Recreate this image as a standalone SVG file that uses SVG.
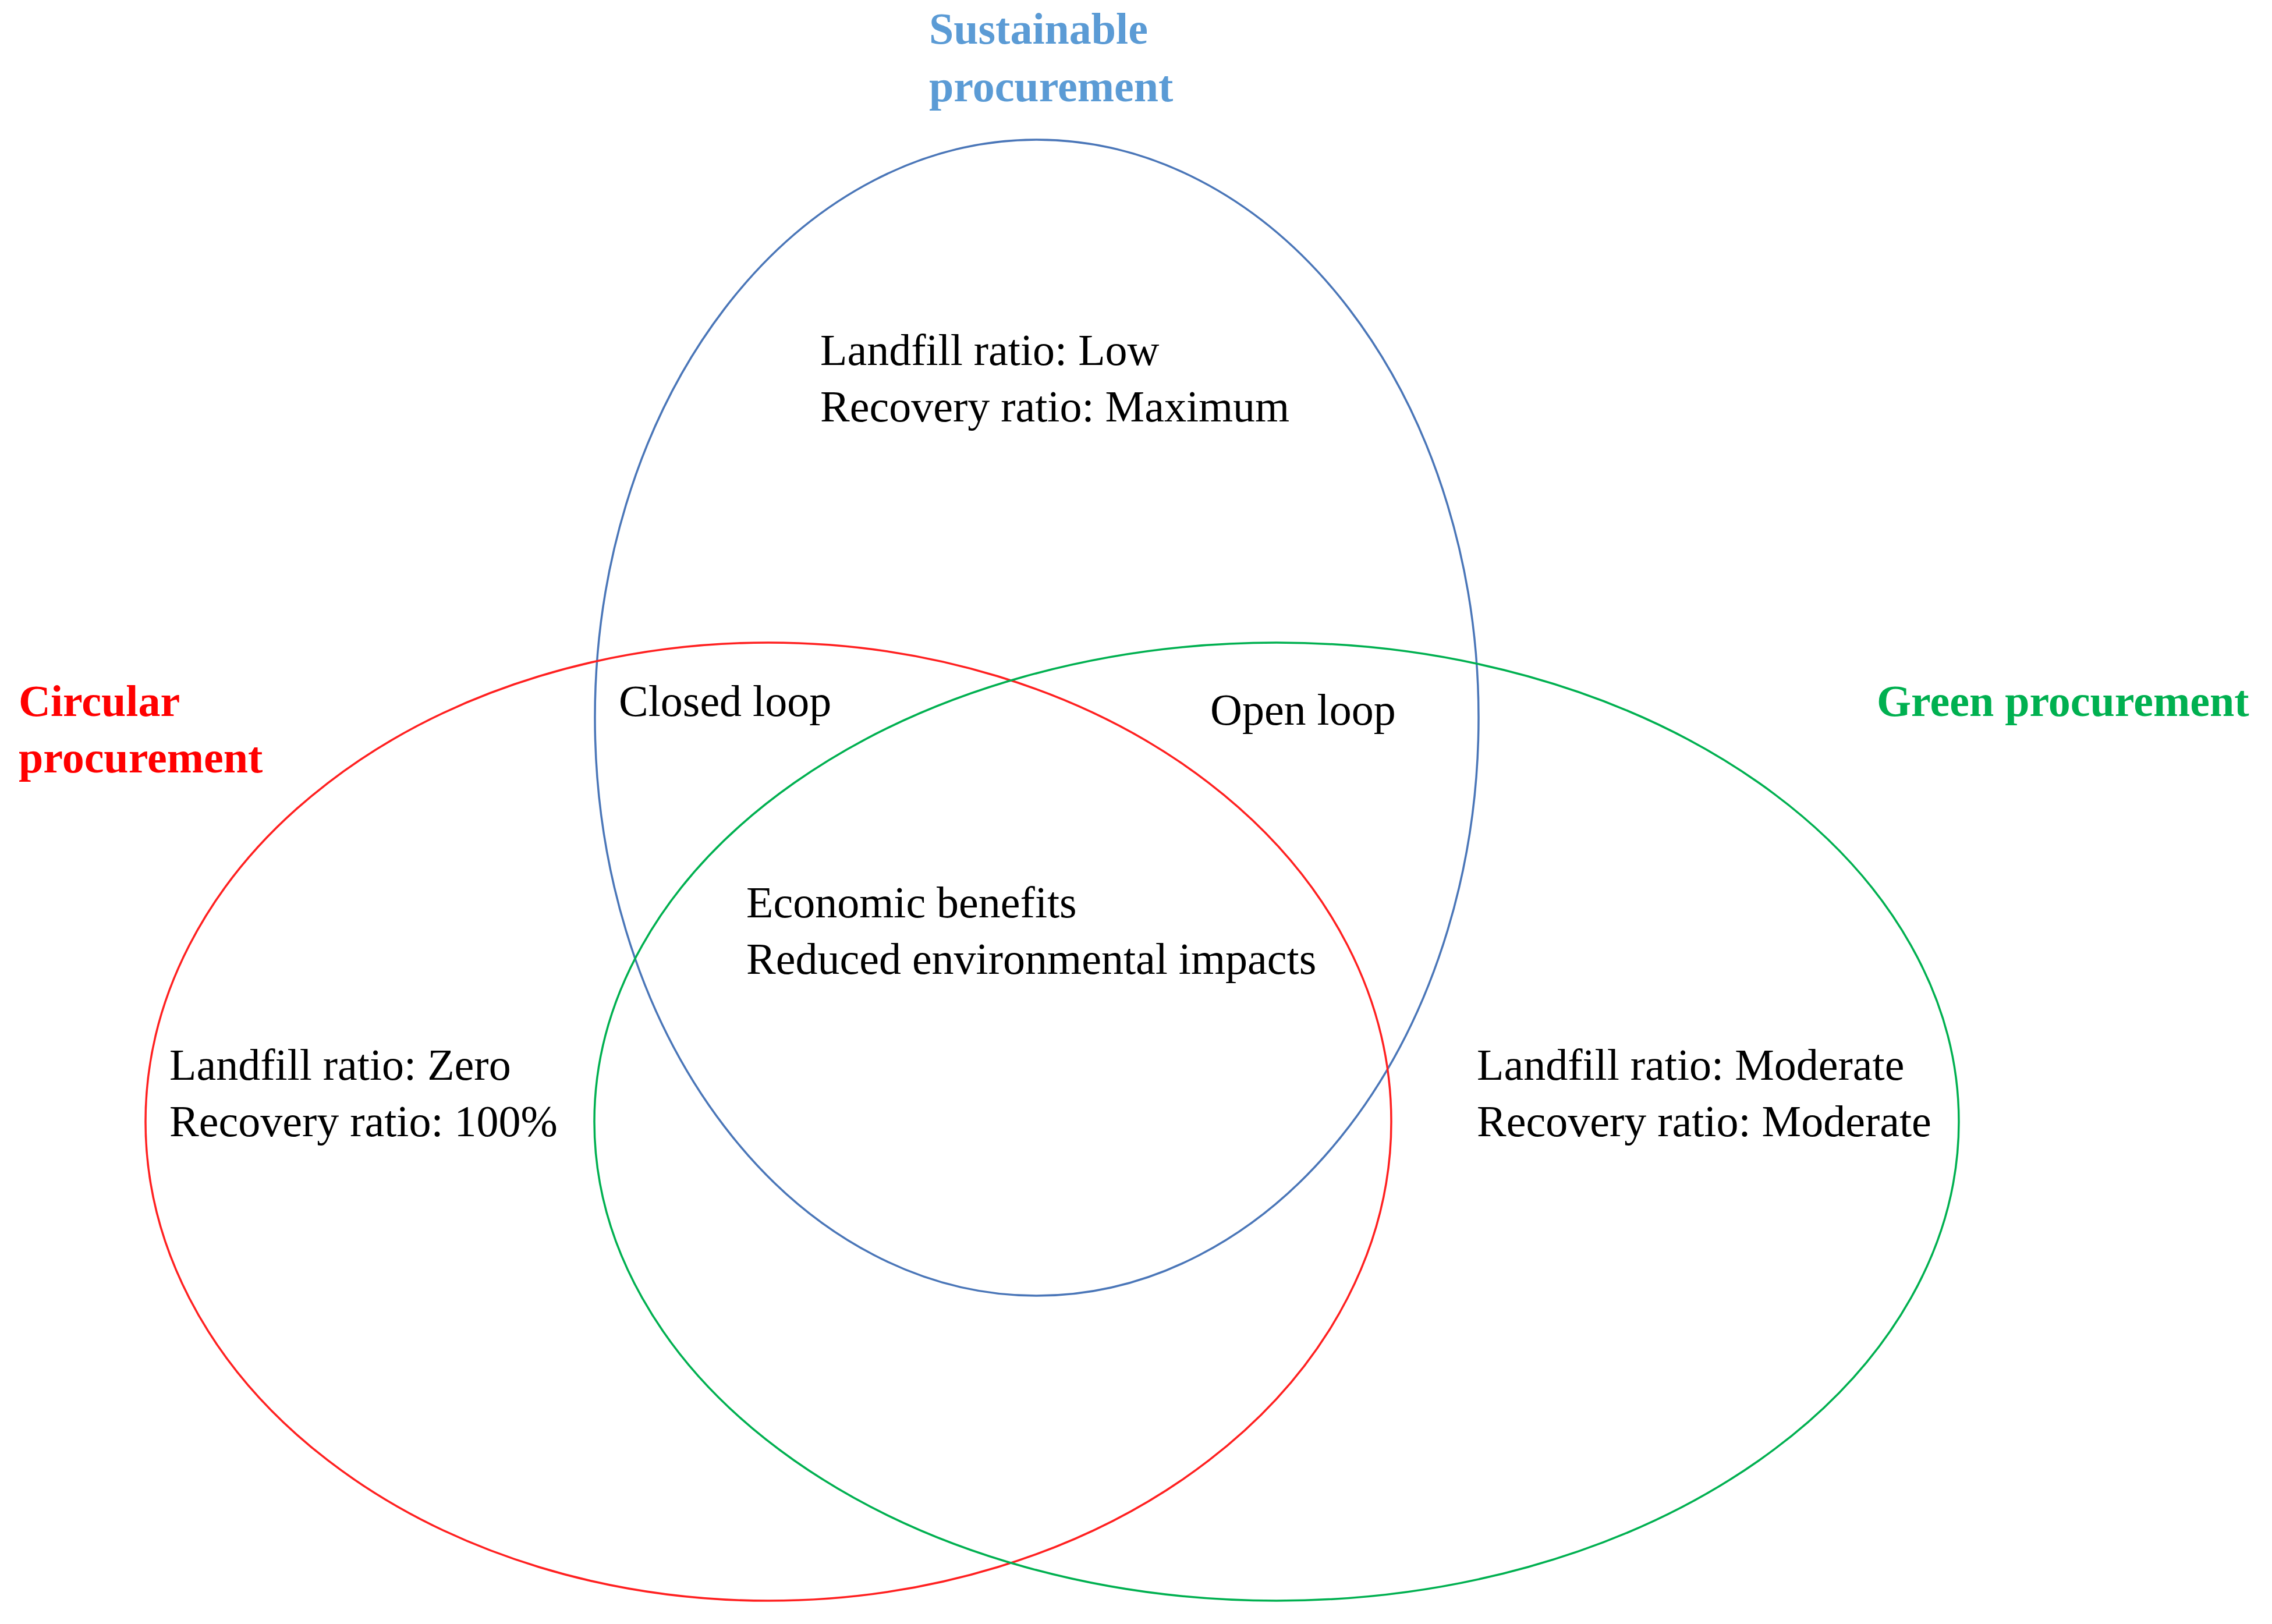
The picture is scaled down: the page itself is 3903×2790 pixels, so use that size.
<svg xmlns="http://www.w3.org/2000/svg" width="3903" height="2790" viewBox="0 0 3903 2790" xml:space="preserve">
<style>
text{font-family:"Liberation Serif","Times New Roman",serif;font-size:76px;fill:#000}
.t{font-weight:bold}
.c{fill:none;stroke-width:3.5}
</style>
<rect width="3903" height="2790" fill="#fff"/>
<g id="connectors"></g>
<g id="sustainable">
<ellipse class="c" cx="1781" cy="1233" rx="759" ry="993" stroke="#4A76B8"/>
<text class="t" x="1596" y="75" style="fill:#5B9BD5">Sustainable</text>
<text class="t" x="1596" y="174" style="fill:#5B9BD5">procurement</text>
<text x="1409" y="627">Landfill  ratio:  Low</text>
<text x="1409" y="724">Recovery ratio:  Maximum</text>
</g>
<g id="circular">
<ellipse class="c" cx="1320" cy="1927" rx="1070" ry="823" stroke="#FF2020"/>
<text class="t" x="32" y="1230" style="fill:#FF0000">Circular</text>
<text class="t" x="32" y="1327" style="fill:#FF0000">procurement</text>
<text x="291" y="1855">Landfill  ratio:  Zero</text>
<text x="291" y="1952">Recovery ratio:  100%</text>
</g>
<g id="green">
<ellipse class="c" cx="2193" cy="1927" rx="1172" ry="823" stroke="#00B050"/>
<text class="t" x="3224" y="1230" style="fill:#00B050">Green procurement</text>
<text x="2537" y="1855">Landfill  ratio:  Moderate</text>
<text x="2537" y="1952">Recovery ratio:  Moderate</text>
</g>
<g id="overlaps">
<text x="1063" y="1230">Closed loop</text>
<text x="2079" y="1245">Open loop</text>
<text x="1282" y="1576">Economic benefits</text>
<text x="1282" y="1673">Reduced environmental  impacts</text>
</g>
</svg>
